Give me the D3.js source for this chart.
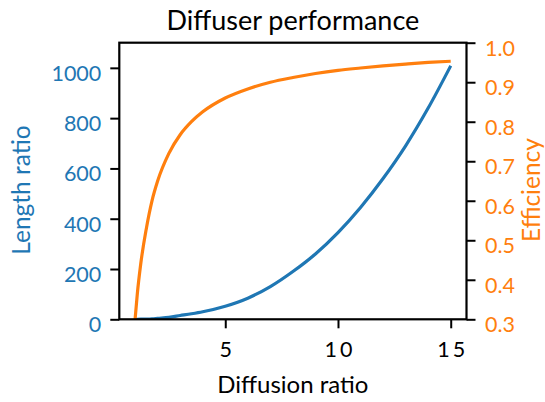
<!DOCTYPE html>
<html>
<head>
<meta charset="utf-8">
<script src="https://cdn.jsdelivr.net/npm/d3@7"></script>
<style>
  html, body { margin: 0; padding: 0; background: #fff; }
  svg { display: block; }
  text { font-family: Lato, "DejaVu Sans", sans-serif; }
</style>
</head>
<body>
<svg id="chart" width="545" height="402"></svg>
<script>
// ---- data ----
const diffusionRatio = [1, 1.1, 1.25, 1.5, 1.75, 2, 2.5, 3, 3.5, 4, 5, 6, 7, 8, 9, 10, 11, 12, 13, 14, 15];
const lengthRatio    = [0, 0.2, 0.5, 1, 2, 4, 8, 15, 22, 30, 52, 84, 130, 190, 260, 345, 445, 560, 690, 840, 1008];
const efficiency     = [0.30, 0.365, 0.44, 0.53, 0.60, 0.65, 0.72, 0.767, 0.80, 0.825, 0.86, 0.883, 0.90, 0.912, 0.922, 0.930, 0.936, 0.9415, 0.946, 0.950, 0.953];
const xTicks = [5, 10, 15];
const leftTicks = [0, 200, 400, 600, 800, 1000];
const rightTicks = [0.3, 0.4, 0.5, 0.6, 0.7, 0.8, 0.9, 1.0];
const xDomain = [0.3, 15.7];
const leftDomain = [0, 1100];
const rightDomain = [0.3, 1.0];

const blue = "#1f77b4", orange = "#ff7f0e";
const L = 119.3, R = 466.5, T = 42.7, B = 319.3;

const svg = d3.select("#chart");
const x = d3.scaleLinear().domain(xDomain).range([L, R]);
const yL = d3.scaleLinear().domain(leftDomain).range([B, T]);
const yR = d3.scaleLinear().domain(rightDomain).range([B, T]);

const pts = diffusionRatio.map((d, i) => ({x: d, l: lengthRatio[i], e: efficiency[i]}));

svg.append("defs").append("clipPath").attr("id", "clip")
  .append("rect").attr("x", L).attr("y", T).attr("width", R - L).attr("height", B - T);

const g = svg.append("g").attr("clip-path", "url(#clip)");
g.append("path").datum(pts)
  .attr("d", d3.line().x(d => x(d.x)).y(d => yL(d.l)).curve(d3.curveMonotoneX))
  .attr("fill", "none").attr("stroke", blue).attr("stroke-width", 3.2);
g.append("path").datum(pts)
  .attr("d", d3.line().x(d => x(d.x)).y(d => yR(d.e)).curve(d3.curveMonotoneX))
  .attr("fill", "none").attr("stroke", orange).attr("stroke-width", 3.2);

// axes
const tickLen = 9;
const axB = svg.append("g").attr("transform", `translate(0,${B})`)
  .call(d3.axisBottom(x).tickValues(xTicks).tickSize(tickLen).tickPadding(0).tickFormat(d3.format("d")));
const axL = svg.append("g").attr("transform", `translate(${L},0)`)
  .call(d3.axisLeft(yL).tickValues(leftTicks).tickSize(tickLen).tickFormat(d3.format("d")));
const axR = svg.append("g").attr("transform", `translate(${R},0)`)
  .call(d3.axisRight(yR).tickValues(rightTicks).tickSize(tickLen).tickFormat(d3.format(".1f")));

[axB, axL, axR].forEach(a => {
  a.select(".domain").remove();
  a.selectAll(".tick line").attr("stroke", "#000").attr("stroke-width", 2);
  a.selectAll(".tick text").attr("font-family", "Lato, 'DejaVu Sans', sans-serif").attr("font-size", 21.5);
});
axB.selectAll(".tick text").attr("fill", "#000").attr("dy", null)
  .attr("y", 38).attr("dominant-baseline", "alphabetic")
  .attr("letter-spacing", 3).attr("dx", 1.5);
axL.selectAll(".tick text").attr("fill", blue).attr("dy", null)
  .attr("x", -18).attr("y", 12.5).attr("dominant-baseline", "alphabetic");
axR.selectAll(".tick text").attr("fill", orange).attr("dy", null)
  .attr("x", 18.5).attr("y", 12.5).attr("dominant-baseline", "alphabetic");

// spines (frame)
svg.append("rect").attr("x", L).attr("y", T).attr("width", R - L).attr("height", B - T)
  .attr("fill", "none").attr("stroke", "#000").attr("stroke-width", 2.2);

// titles
svg.append("text").attr("x", (L + R) / 2).attr("y", 30).attr("text-anchor", "middle")
  .attr("font-size", 27).attr("fill", "#000").text("Diffuser performance");
svg.append("text").attr("x", (L + R) / 2).attr("y", 392.7).attr("text-anchor", "middle")
  .attr("font-size", 24).attr("fill", "#000").text("Diffusion ratio");
svg.append("text").attr("transform", "translate(30,190) rotate(-90)").attr("text-anchor", "middle")
  .attr("font-size", 24.5).attr("fill", blue).text("Length ratio");
svg.append("text").attr("transform", "translate(540,190) rotate(-90)").attr("text-anchor", "middle")
  .attr("font-size", 24.5).attr("fill", orange).text("Efficiency");
</script>
</body>
</html>
